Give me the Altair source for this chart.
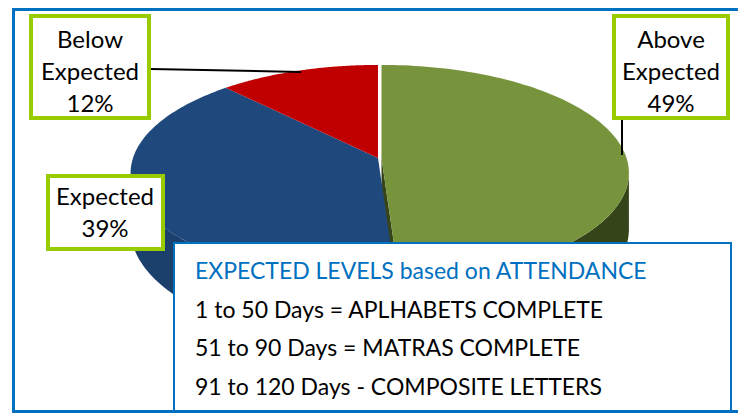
import altair as alt
import numpy as np
import pandas as pd

# ---------------- data ----------------
categories = ["Above Expected", "Expected", "Below Expected"]
values = [49, 39, 12]
note_title = "EXPECTED LEVELS based on ATTENDANCE"
note_lines = [
    "1 to 50 Days = APLHABETS COMPLETE",
    "51 to 90 Days = MATRAS COMPLETE",
    "91 to 120 Days - COMPOSITE LETTERS",
]

# ---------------- styles / layout ----------------
top_colors = ["#77933C", "#1F497D", "#C00000"]
side_colors = ["#36441A", "#1C406C", "#7A0000"]
FRAME_BLUE = "#0070C0"
LABEL_GREEN = "#99CC00"
FONT = "Lato"

W, H = 730, 405
OFF = 8  # page margin
CX, CY = 378 - OFF, 158 - OFF
RX, RY, PERSP, DEPTH = 245.0, 106.0, 0.139, 55.0
EXPLODE = {"Above Expected": 3.5}

# label boxes (page coordinates): x0, y0, x1, y1, text centre x, first-line centre y
label_layout = {
    "Above Expected": (614, 16, 728, 118, 671, 41),
    "Expected": (48, 176, 163, 249, 105, 198),
    "Below Expected": (31, 16, 149, 118, 90, 41),
}


def pt(theta, depth=0.0):
    w = 1 + PERSP * np.cos(theta)
    return RX * np.sin(theta) / w, (-RY * np.cos(theta) + depth) / w


def feature(ring, key):
    return {
        "type": "Feature",
        "properties": {"key": key},
        "geometry": {"type": "Polygon", "coordinates": [ring]},
    }


total = float(sum(values))
fr = np.cumsum([0] + values) / total
vis_r = np.arccos(-PERSP)
vis_l = 2 * np.pi - vis_r
cuts, sides, tops = [], [], []
keys, cols = [], []
for i, (cat, v) in enumerate(zip(categories, values)):
    t0, t1 = 2 * np.pi * fr[i], 2 * np.pi * fr[i + 1]
    dx = EXPLODE.get(cat, 0.0)
    keys += [cat + "|top", cat + "|side"]
    cols += [top_colors[i], side_colors[i]]
    # top face
    ts = np.linspace(t0, t1, 120)
    xs, ys = pt(ts)
    ring = [[dx, 0.0]] + [[float(x + dx), float(y)] for x, y in zip(xs, ys)] + [[dx, 0.0]]
    tops.append(feature(ring, cat + "|top"))
    # visible outer side
    a, b = max(t0, vis_r), min(t1, vis_l)
    if b > a:
        ts = np.linspace(a, b, 120)
        xt, yt = pt(ts)
        xb, yb = pt(ts, DEPTH)
        ring = [[float(x + dx), float(y)] for x, y in zip(xt, yt)]
        ring += [[float(x + dx), float(y)] for x, y in zip(xb[::-1], yb[::-1])]
        ring.append(ring[0])
        sides.append(feature(ring, cat + "|side"))
    # cut face of exploded slice
    if dx:
        ex, ey = pt(t1)
        bx, by = pt(t1, DEPTH)
        ring = [[dx, 0.0], [float(ex + dx), float(ey)], [float(bx + dx), float(by)], [dx, DEPTH], [dx, 0.0]]
        cuts.append(feature(ring, cat + "|side"))

features = cuts + sides + tops

pie = (
    alt.Chart(alt.Data(values=features))
    .mark_geoshape(strokeWidth=0)
    .encode(color=alt.Color("properties.key:N", scale=alt.Scale(domain=keys, range=cols), legend=None))
    .project(type="identity", scale=1, translate=[CX, CY])
)

frame = alt.Chart().mark_rect(fillOpacity=0, stroke=FRAME_BLUE, strokeWidth=3).encode(
    x=alt.value(5.5), x2=alt.value(732.5), y=alt.value(1.5), y2=alt.value(403.5)
)

lead1 = alt.Chart().mark_rule(color="black", strokeWidth=2).encode(
    x=alt.value(151 - OFF), x2=alt.value(301 - OFF), y=alt.value(69 - OFF), y2=alt.value(72 - OFF)
)
lead2 = alt.Chart().mark_rule(color="black", strokeWidth=2).encode(
    x=alt.value(622 - OFF), x2=alt.value(622 - OFF), y=alt.value(120 - OFF), y2=alt.value(155 - OFF)
)

lab = pd.DataFrame(
    {
        "cat": categories,
        "value": values,
        "x0": [label_layout[c][0] - OFF for c in categories],
        "y0": [label_layout[c][1] - OFF for c in categories],
        "x1": [label_layout[c][2] - OFF for c in categories],
        "y1": [label_layout[c][3] - OFF for c in categories],
        "tx": [label_layout[c][4] - OFF for c in categories],
        "ty": [label_layout[c][5] - OFF for c in categories],
    }
)
lab["text"] = [c.replace(" ", "\n") + "\n" + f"{v}%" for c, v in zip(categories, values)]

boxes = alt.Chart(lab).mark_rect(fill="white", stroke=LABEL_GREEN, strokeWidth=4).encode(
    x=alt.X("x0:Q", scale=None), x2="x1:Q", y=alt.Y("y0:Q", scale=None), y2="y1:Q"
)
texts = alt.Chart(lab).mark_text(
    font=FONT, fontSize=24, lineBreak="\n", lineHeight=32, align="center", baseline="middle", color="black"
).encode(x=alt.X("tx:Q", scale=None), y=alt.Y("ty:Q", scale=None), text="text:N")

note_box = alt.Chart().mark_rect(fill="white", stroke=FRAME_BLUE, strokeWidth=2).encode(
    x=alt.value(174 - OFF), x2=alt.value(731 - OFF), y=alt.value(243 - OFF), y2=alt.value(411 - OFF)
)
note = pd.DataFrame({"text": [note_title] + note_lines, "kind": ["title"] + ["line"] * len(note_lines)})
note["row"] = range(len(note))
note["y"] = [272 - OFF + 38.7 * r for r in note["row"]]
note_text = alt.Chart(note).mark_text(font=FONT, fontSize=23, align="left", baseline="middle").encode(
    x=alt.value(195 - OFF),
    y=alt.Y("y:Q", scale=None),
    text="text:N",
    color=alt.Color("kind:N", scale=alt.Scale(domain=["title", "line"], range=[FRAME_BLUE, "black"]), legend=None),
)

chart = (
    alt.layer(frame, pie, lead1, lead2, boxes, texts, note_box, note_text)
    .resolve_scale(color="independent")
    .properties(width=W, height=H, padding=0, autosize=alt.AutoSizeParams(type="none"), background="white")
    .configure_view(stroke=None)
)

chart.save("out.html", embed_options={"renderer": "svg", "actions": False})
